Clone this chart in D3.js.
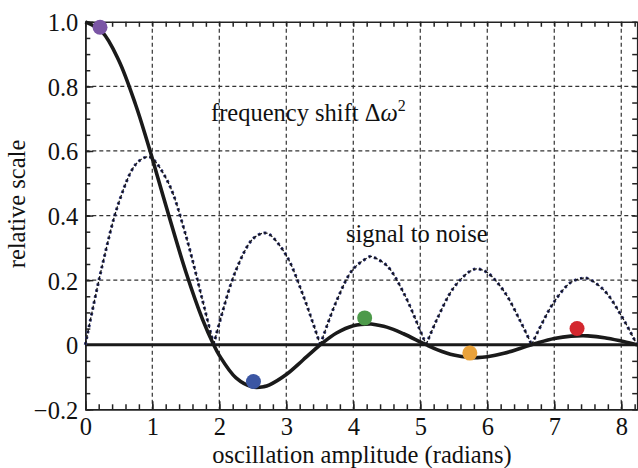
<!DOCTYPE html>
<html><head><meta charset="utf-8">
<script src="https://cdn.jsdelivr.net/npm/d3@7"></script>
<style>body{margin:0;background:#fff}svg{display:block}text{font-family:"Liberation Serif","Times New Roman",serif;fill:#111}</style>
</head><body>
<script>
// amplitude samples (radians)
const amplitude = [0,0.25,0.5,0.75,0.92,1.0,1.25,1.5,1.75,1.916,2.0,2.25,2.5,2.666,2.75,3.0,3.25,3.5,3.508,3.75,4.0,4.25,4.268,4.5,4.75,5.0,5.087,5.25,5.5,5.75,5.853,6.0,6.25,6.5,6.662,6.75,7.0,7.25,7.432,7.5,7.75,8.0,8.235,8.25];
// frequency shift (solid)
const freqShift = [1,0.9692,0.8802,0.7439,0.6325,0.5767,0.3977,0.2261,0.0785,0,-0.0330,-0.1027,-0.1310,-0.1298,-0.1241,-0.0922,-0.0473,-0.0013,0,0.0361,0.0587,0.0643,0.0640,0.0545,0.0340,0.0087,0,-0.0150,-0.0321,-0.0397,-0.0401,-0.0372,-0.0265,-0.0108,0,0.0056,0.0191,0.0267,0.0278,0.0273,0.0216,0.0113,0,-0.0007];
// signal to noise (dashed)
const signalNoise = [0,0.2423,0.4401,0.5579,0.5819,0.5767,0.4971,0.3391,0.1374,0,0.0660,0.2311,0.3276,0.3461,0.3414,0.2767,0.1538,0.0047,0,0.1352,0.2346,0.2731,0.2733,0.2453,0.1613,0.0435,0,0.0789,0.1768,0.2284,0.2346,0.2234,0.1655,0.0703,0,0.0380,0.1334,0.1934,0.2065,0.2051,0.1672,0.0904,0,0.0058];
// marked points
const markerX = [0.22,2.51,4.17,5.74,7.34];
const markerY = [0.983,-0.114,0.083,-0.026,0.050];
const markerColor = ["#7a55a5","#3b56a3","#4d9a4a","#e9a23b","#d3272e"];
// ticks
const xMajor = [0,1,2,3,4,5,6,7,8];
const xMinor = d3.range(0,8.25,0.2);
const yMajor = [-0.2,0,0.2,0.4,0.6,0.8,1.0];
const yMajorLabels = ["\u22120.2","0","0.2","0.4","0.6","0.8","1.0"];
const yMinor = d3.range(-0.2,1.0001,0.05);
const xGrid = [1,2,3,4,5,6,7,8];
const yGrid = [0.2,0.4,0.6,0.8];

const W=638,H=468;
const svg = d3.select("body").append("svg").attr("width",W).attr("height",H);
const x = d3.scaleLinear().domain([0,8.25]).range([85.3,638]);
const y = d3.scaleLinear().domain([-0.2,1]).range([409.3,21.8]);
const xR = 637.2;
const FS = 24.5;

// grid
svg.append("g").selectAll("line").data(xGrid).join("line")
  .attr("x1",d=>x(d)).attr("x2",d=>x(d)).attr("y1",y(1)).attr("y2",y(-0.2))
  .attr("stroke","#333").attr("stroke-width",1.2).attr("stroke-dasharray","4,3");
svg.append("g").selectAll("line").data(yGrid).join("line")
  .attr("y1",d=>y(d)).attr("y2",d=>y(d)).attr("x1",x(0)).attr("x2",xR)
  .attr("stroke","#333").attr("stroke-width",1.2).attr("stroke-dasharray","4,3");

// axes
function styleAxis(g){g.attr("font-family",null).attr("font-size",null);g.selectAll("path.domain").attr("stroke","#222").attr("stroke-width",1.6);g.selectAll(".tick line").attr("stroke","#222").attr("stroke-width",1.5);}
const fmtNone = ()=> "";
svg.append("g").attr("transform",`translate(0,${y(-0.2)})`)
  .call(d3.axisBottom(x).tickValues(xMinor).tickSizeInner(-5).tickSizeOuter(0).tickFormat(fmtNone)).call(styleAxis);
const bx = svg.append("g").attr("transform",`translate(0,${y(-0.2)})`)
  .call(d3.axisBottom(x).tickValues(xMajor).tickSizeInner(-8).tickSizeOuter(0).tickFormat(d3.format("d"))).call(styleAxis);
bx.selectAll("text").attr("y",26).attr("dy",0).attr("font-size",FS).attr("fill","#111");
svg.append("g").attr("transform",`translate(0,${y(1)})`)
  .call(d3.axisTop(x).tickValues(xMinor).tickSizeInner(-5).tickSizeOuter(0).tickFormat(fmtNone)).call(styleAxis);
svg.append("g").attr("transform",`translate(${x(0)},0)`)
  .call(d3.axisLeft(y).tickValues(yMinor).tickSizeInner(-5).tickSizeOuter(0).tickFormat(fmtNone)).call(styleAxis);
const ly = svg.append("g").attr("transform",`translate(${x(0)},0)`)
  .call(d3.axisLeft(y).tickValues(yMajor).tickSizeInner(-8).tickSizeOuter(0).tickFormat((d,i)=>yMajorLabels[i])).call(styleAxis);
ly.selectAll("text").attr("x",-7).attr("dy",0).attr("y",9).attr("font-size",FS).attr("fill","#111");
svg.append("g").attr("transform",`translate(${xR},0)`)
  .call(d3.axisRight(y).tickValues(yMinor).tickSizeInner(-5).tickSizeOuter(0).tickFormat(fmtNone)).call(styleAxis);

// zero line
svg.append("line").attr("x1",x(0)).attr("x2",xR).attr("y1",y(0)).attr("y2",y(0))
  .attr("stroke","#1a1a1a").attr("stroke-width",3);

const pts = amplitude.map((a,i)=>({a,f:freqShift[i],s:signalNoise[i]}));

// signal to noise arches (split at zeros)
const arches=[]; let cur=[];
pts.forEach((p,i)=>{cur.push(p); if(p.s===0 && i>0){arches.push(cur); cur=[p];}});
if(cur.length>1) arches.push(cur);
const lineS = d3.line().x(d=>x(d.a)).y(d=>y(d.s)).curve(d3.curveCatmullRom.alpha(0.5));
svg.append("g").selectAll("path").data(arches).join("path").attr("d",lineS)
  .attr("fill","none").attr("stroke","#2e3478").attr("stroke-width",3).attr("stroke-dasharray","2.5,3.5");
svg.append("g").selectAll("path").data(arches).join("path").attr("d",lineS)
  .attr("fill","none").attr("stroke","#111").attr("stroke-width",1.3).attr("stroke-dasharray","4,2");

// frequency shift
const lineF = d3.line().x(d=>x(d.a)).y(d=>y(d.f)).curve(d3.curveCatmullRom.alpha(0.5));
svg.append("path").datum(pts).attr("d",lineF).attr("fill","none").attr("stroke","#1a1a1a").attr("stroke-width",3.6);

// markers
svg.append("g").selectAll("circle").data(markerX).join("circle")
  .attr("cx",d=>x(d)).attr("cy",(d,i)=>y(markerY[i])).attr("r",7.5).attr("fill",(d,i)=>markerColor[i]);

// labels
const t1 = svg.append("text").attr("x",211).attr("y",121).attr("font-size",FS);
t1.append("tspan").text("frequency shift \u0394");
t1.append("tspan").attr("font-style","italic").text("\u03c9");
t1.append("tspan").attr("font-size",16).attr("dy",-10).text("2");
svg.append("text").attr("x",346).attr("y",242).attr("font-size",FS).text("signal to noise");
svg.append("text").attr("x",362).attr("y",463).attr("text-anchor","middle").attr("font-size",FS).text("oscillation amplitude (radians)");
svg.append("text").attr("transform","translate(25,204) rotate(-90)").attr("text-anchor","middle").attr("font-size",FS).text("relative scale");
</script>
</body></html>
